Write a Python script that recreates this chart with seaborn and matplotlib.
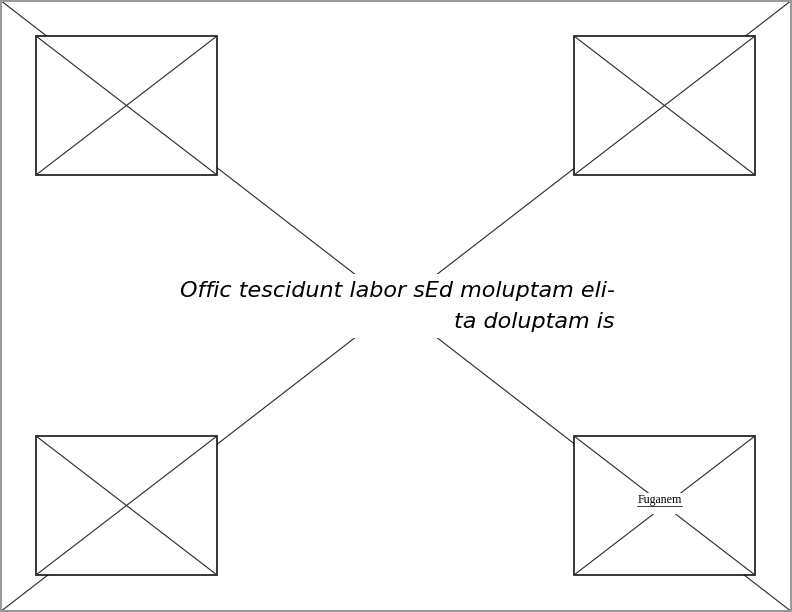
import matplotlib
matplotlib.use("Agg")
import matplotlib.pyplot as plt
from matplotlib.patches import Rectangle
import numpy as np
import pandas as pd
import seaborn as sns

# ---- data (wireframe layout content) ----
page_size = [792, 612]
box_left = [36, 574, 36, 574]
box_top = [36, 36, 436, 436]
box_width = [181, 181, 181, 181]
box_height = [139, 139, 139, 139]
headline_lines = ["Offic tescidunt labor sEd moluptam eli-", "ta doluptam is"]
caption_text = "Fuganem"

sns.set_theme(style="white")
plt.rcParams['font.family'] = ['DejaVu Sans']

W, H = page_size
fig = plt.figure(figsize=(W / 100, H / 100), dpi=100)
ax = fig.add_axes([0, 0, 1, 1])
ax.set_xlim(0, W)
ax.set_ylim(H, 0)
ax.axis("off")

# big page diagonals
big = pd.DataFrame({
    "x": [0, W, W, 0],
    "y": [0, H, 0, H],
    "seg": [0, 0, 1, 1],
})
sns.lineplot(data=big, x="x", y="y", units="seg", estimator=None, sort=False,
             color="#2a2a2a", lw=0.8, ax=ax, legend=False)
for ln in ax.lines:
    ln.set_zorder(1)
n_big = len(ax.lines)

# boxes
rows = []
for i, (l, t, w, h) in enumerate(zip(box_left, box_top, box_width, box_height)):
    ax.add_patch(Rectangle((l, t), w, h, facecolor="white", edgecolor="black",
                           lw=1.1, zorder=2))
    rows += [(l, t, 2 * i), (l + w, t + h, 2 * i), (l + w, t, 2 * i + 1), (l, t + h, 2 * i + 1)]
boxd = pd.DataFrame(rows, columns=["x", "y", "seg"])
sns.lineplot(data=boxd, x="x", y="y", units="seg", estimator=None, sort=False,
             color="#2a2a2a", lw=0.8, ax=ax, legend=False)
for ln in ax.lines[n_big:]:
    ln.set_zorder(3)

# central text gap
ax.add_patch(Rectangle((175, 274), 445, 64, facecolor="white", edgecolor="none", zorder=4))
ax.text(615, 297, headline_lines[0], ha="right", va="baseline", fontsize=16,
        style="italic", family="DejaVu Sans", color="black", zorder=5)
ax.text(615, 328, headline_lines[1], ha="right", va="baseline", fontsize=16,
        style="italic", family="DejaVu Sans", color="black", zorder=5)

# caption in bottom-right box
cx = box_left[3] + box_width[3] / 2
ax.add_patch(Rectangle((cx - 30, 493), 60, 21, facecolor="white", edgecolor="none", zorder=4))
cap = ax.text(cx - 5, 503, caption_text, ha="center", va="baseline", fontsize=8.6,
              family=["Liberation Serif", "DejaVu Serif"], color="black", zorder=5)
fig.canvas.draw()
bb = cap.get_window_extent().transformed(ax.transData.inverted())
ax.plot([bb.x0, bb.x1], [505.5, 505.5], color="#222", lw=0.6, zorder=5)

# page border
ax.add_patch(Rectangle((0.75, 0.75), W - 2, H - 2, facecolor="none",
                       edgecolor="#9a9a9a", lw=1.5, zorder=6))

fig.savefig("out.png", dpi=100)
